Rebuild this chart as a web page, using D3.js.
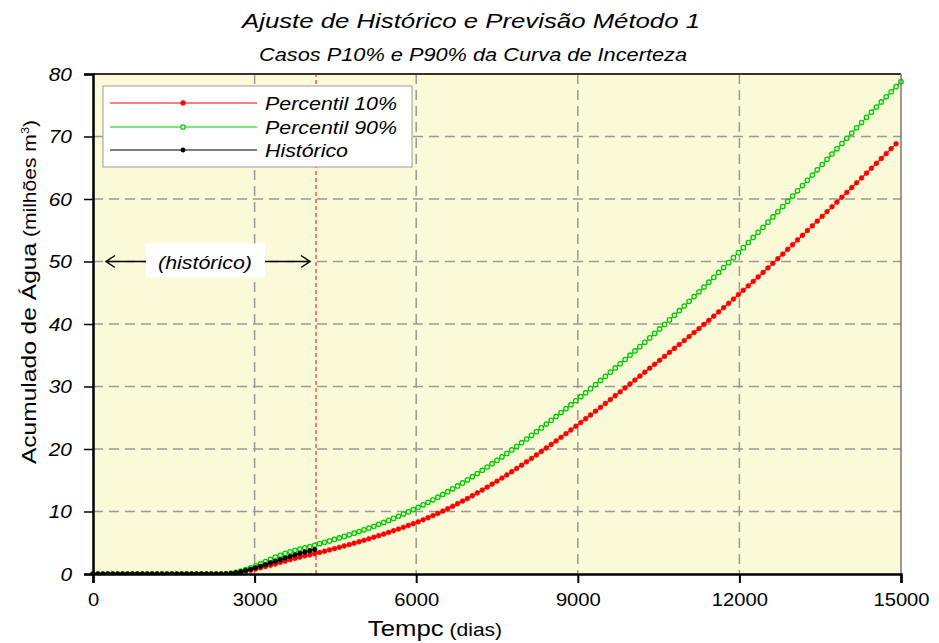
<!DOCTYPE html>
<html><head><meta charset="utf-8">
<script src="https://cdn.jsdelivr.net/npm/d3@7"></script>
<style>body{margin:0;background:#fff} svg{display:block} text{font-family:"Liberation Sans",Arial,Helvetica,sans-serif}</style>
</head><body><svg id="c" width="939" height="643"></svg>
<script>
// ---- data ----
const xTicks = [0, 3000, 6000, 9000, 12000, 15000];
const yTicks = [0, 10, 20, 30, 40, 50, 60, 70, 80];
const stepDays = 15000 / 164;      // quarterly samples
const histEnd = 4140;              // end of history (days)
const seriesNames = ["Percentil 10%", "Percentil 90%", "Histórico"];

const p10 = [
0,0,0,0,0,0,0,0,0,0, 0,0,0,0,0,0,0,0,0,0, 0,0,0,0,0,0,0,0,0.05,0.15,
0.3,0.5,0.6,0.8,1.0,1.2,1.4,1.6,1.85,2.05, 2.3,2.5,2.7,2.9,3.05,3.24,3.44,3.64,3.85,4.05,
4.27,4.48,4.70,4.93,5.16,5.39,5.63,5.88,6.13,6.38, 6.65,6.92,7.19,7.47,7.76,8.05,8.35,8.67,9.00,9.34,
9.69,10.06,10.44,10.83,11.24,11.65,12.08,12.52,12.97,13.43, 13.89,14.37,14.85,15.35,15.85,16.36,16.88,17.42,17.95,18.49,
19.04,19.60,20.16,20.72,21.29,21.87,22.45,23.04,23.64,24.23, 24.84,25.44,26.05,26.66,27.28,27.90,28.52,29.14,29.77,30.40,
31.03,31.66,32.29,32.93,33.55,34.19,34.82,35.45,36.08,36.71, 37.34,37.99,38.63,39.27,39.93,40.59,41.26,41.93,42.62,43.30,
43.99,44.69,45.39,46.10,46.81,47.52,48.24,48.97,49.70,50.44, 51.18,51.93,52.68,53.44,54.19,54.95,55.70,56.46,57.22,57.99,
58.75,59.51,60.28,61.05,61.82,62.59,63.37,64.14,64.92,65.70, 66.48,67.26,68.05,68.83
];
const p90 = [
0,0,0,0,0,0,0,0,0,0, 0,0,0,0,0,0,0,0,0,0, 0,0,0,0,0,0,0,0.02,0.1,0.25,
0.45,0.7,1.0,1.3,1.65,2.0,2.35,2.7,3.0,3.3, 3.55,3.8,4.0,4.2,4.4,4.6,4.86,5.08,5.30,5.53,
5.77,6.02,6.27,6.53,6.80,7.07,7.35,7.64,7.95,8.25, 8.58,8.90,9.24,9.59,9.94,10.31,10.68,11.07,11.47,11.87,
12.29,12.73,13.17,13.63,14.09,14.57,15.06,15.57,16.08,16.60, 17.12,17.65,18.19,18.74,19.30,19.86,20.43,21.01,21.60,22.18,
22.78,23.38,23.99,24.60,25.21,25.83,26.46,27.09,27.72,28.37, 29.01,29.66,30.31,30.97,31.63,32.30,32.97,33.64,34.32,35.01,
35.69,36.38,37.08,37.78,38.50,39.21,39.94,40.66,41.40,42.13, 42.88,43.63,44.39,45.15,45.91,46.69,47.46,48.25,49.03,49.82,
50.62,51.42,52.22,53.04,53.85,54.67,55.48,56.30,57.13,57.96, 58.79,59.63,60.47,61.31,62.15,62.99,63.84,64.67,65.52,66.36,
67.20,68.04,68.88,69.72,70.56,71.40,72.23,73.07,73.89,74.72, 75.53,76.35,77.16,77.98,78.78
];
const hist = [
0,0,0,0,0,0,0,0,0,0, 0,0,0,0,0,0,0,0,0,0, 0,0,0,0,0,0,0,0.02,0.08,0.2,
0.35,0.55,0.75,1.0,1.25,1.5,1.8,2.05,2.3,2.55, 2.8,3.05,3.3,3.5,3.7,3.9
];

// ---- layout ----
const m = {l: 93, r: 901, t: 74, b: 574};
const svg = d3.select("#c");
const x = d3.scaleLinear().domain([0, 15000]).range([m.l, m.r]);
const y = d3.scaleLinear().domain([0, 80]).range([m.b, m.t]);
const toPts = arr => arr.map((v, i) => [i * stepDays, v]);
const green = "#00cc00", red = "#ff0000", bg = "#fafad9";

// stretch a text horizontally (reference font is wider than Liberation Sans)
function stretch(sel, target) {
  sel.each(function() {
    const L = this.getComputedTextLength();
    const t = typeof target === "number" && target > 3 ? target : L * target;
    this.setAttribute("textLength", t);
    this.setAttribute("lengthAdjust", "spacingAndGlyphs");
  });
}

svg.append("rect").attr("x", m.l).attr("y", m.t).attr("width", m.r - m.l).attr("height", m.b - m.t).attr("fill", bg);

// grid
const grid = svg.append("g").attr("stroke", "#999").attr("stroke-width", 1.5).attr("stroke-dasharray", "10,6");
grid.selectAll(".gx").data(xTicks.filter(d => d > 0 && d < 15000)).join("line")
  .attr("x1", d => x(d)).attr("x2", d => x(d)).attr("y1", m.t).attr("y2", m.b);
grid.selectAll(".gy").data(yTicks.filter(d => d > 0 && d < 80)).join("line")
  .attr("y1", d => y(d)).attr("y2", d => y(d)).attr("x1", m.l).attr("x2", m.r);

// history end line
svg.append("line").attr("x1", x(histEnd)).attr("x2", x(histEnd)).attr("y1", m.b).attr("y2", m.t)
  .attr("stroke", red).attr("stroke-width", 1).attr("stroke-dasharray", "4,3");

svg.append("clipPath").attr("id", "clip").append("rect")
  .attr("x", m.l - 3).attr("y", m.t - 3).attr("width", m.r - m.l + 6).attr("height", m.b - m.t + 3);
const plot = svg.append("g").attr("clip-path", "url(#clip)");
const line = d3.line().x(d => x(d[0])).y(d => y(d[1]));

function drawSeries(arr, color, fill, r, sw) {
  const pts = toPts(arr);
  plot.append("path").datum(pts).attr("d", line).attr("fill", "none").attr("stroke", color).attr("stroke-width", 1.2);
  plot.append("g").selectAll("circle").data(pts).join("circle")
    .attr("cx", d => x(d[0])).attr("cy", d => y(d[1])).attr("r", r)
    .attr("fill", fill).attr("stroke", color).attr("stroke-width", sw);
}
drawSeries(p10, red, red, 2.4, 0.6);
drawSeries(p90, green, bg, 2.2, 1.3);
drawSeries(hist, "#000", "#000", 2.3, 0.6);

// frame
svg.append("line").attr("x1", m.l).attr("x2", m.r).attr("y1", m.t).attr("y2", m.t).attr("stroke", "#333").attr("stroke-width", 2);
svg.append("line").attr("x1", m.r).attr("x2", m.r).attr("y1", m.t).attr("y2", m.b).attr("stroke", "#777").attr("stroke-width", 1.5);

// axes
const xAxis = svg.append("g").attr("transform", `translate(0,${m.b})`)
  .call(d3.axisBottom(x).tickValues(xTicks).tickSize(9).tickFormat(d3.format("d")));
xAxis.select(".domain").attr("stroke", "#000").attr("stroke-width", 2.5);
xAxis.selectAll(".tick line").attr("stroke", "#000").attr("stroke-width", 2);
xAxis.selectAll(".tick text").attr("font-size", 18).attr("dy", "1.1em").attr("fill", "#000")
  .style("font-family", '"Liberation Sans",Arial,sans-serif');
stretch(xAxis.selectAll(".tick text"), 1.12);

const yAxis = svg.append("g").attr("transform", `translate(${m.l},0)`)
  .call(d3.axisLeft(y).tickValues(yTicks).tickSize(9).tickPadding(12));
yAxis.select(".domain").attr("stroke", "#000").attr("stroke-width", 2.5);
yAxis.selectAll(".tick line").attr("stroke", "#000").attr("stroke-width", 1.5);
yAxis.selectAll(".tick text").attr("font-size", 19).attr("font-style", "italic").attr("fill", "#000")
  .style("font-family", '"Liberation Sans",Arial,sans-serif');
stretch(yAxis.selectAll(".tick text"), 1.1);

// titles
stretch(svg.append("text").attr("x", 471).attr("y", 28).attr("text-anchor", "middle")
  .attr("font-size", 21).attr("font-style", "italic").text("Ajuste de Histórico e Previsão Método 1"), 458);
stretch(svg.append("text").attr("x", 473).attr("y", 61).attr("text-anchor", "middle")
  .attr("font-size", 18).attr("font-style", "italic").text("Casos P10% e P90% da Curva de Incerteza"), 428);

// axis titles (scaled horizontally along the text direction)
const xt = svg.append("text").attr("transform", "translate(435,636) scale(1.17,1)").attr("text-anchor", "middle");
xt.append("tspan").attr("font-size", 22).text("Tempc");
xt.append("tspan").attr("font-size", 18).attr("dx", 5).text("(dias)");
const yt = svg.append("text").attr("transform", "translate(36,292) rotate(-90) scale(1.17,1)").attr("text-anchor", "middle");
yt.append("tspan").attr("font-size", 21).text("Acumulado de Água");
yt.append("tspan").attr("font-size", 18).attr("dx", 5).text("(milhões m");
yt.append("tspan").attr("font-size", 11).attr("dy", -7).text("3");
yt.append("tspan").attr("font-size", 18).attr("dy", 7).text(")");

// annotation (histórico)
const ay = y(50);
const ann = svg.append("g").attr("stroke", "#000").attr("stroke-width", 1.5).attr("fill", "none");
ann.append("rect").attr("x", 146).attr("y", ay - 18).attr("width", 119).attr("height", 34).attr("fill", "#fff").attr("stroke", "none");
ann.append("path").attr("d", `M146,${ay} L106,${ay} M115,${ay - 6} L106,${ay} L115,${ay + 6}`);
ann.append("path").attr("d", `M265,${ay} L310,${ay} M301,${ay - 6} L310,${ay} L301,${ay + 6}`);
stretch(svg.append("text").attr("x", 205).attr("y", ay + 7).attr("text-anchor", "middle")
  .attr("font-size", 18.5).attr("font-style", "italic").text("(histórico)"), 94);

// legend
const lg = svg.append("g");
lg.append("rect").attr("x", 103).attr("y", 86).attr("width", 309).attr("height", 81)
  .attr("fill", "#fff").attr("stroke", "#999").attr("stroke-width", 1);
const legendItems = [
  {name: seriesNames[0], color: red, fill: red, sw: 0.6, w: 132, r: 2.4},
  {name: seriesNames[1], color: green, fill: "#fff", sw: 1.3, w: 132, r: 2.2},
  {name: seriesNames[2], color: "#000", fill: "#000", sw: 0.6, w: 83, r: 2.2}
];
const rowY = [103, 127, 150];
legendItems.forEach((it, i) => {
  const yy = rowY[i];
  lg.append("line").attr("x1", 110).attr("x2", 257).attr("y1", yy).attr("y2", yy).attr("stroke", it.color).attr("stroke-width", 1.2);
  lg.append("circle").attr("cx", 183).attr("cy", yy).attr("r", it.r).attr("fill", it.fill).attr("stroke", it.color).attr("stroke-width", it.sw);
  stretch(lg.append("text").attr("x", 265).attr("y", yy + 7).attr("font-size", 18.5).attr("font-style", "italic").text(it.name), it.w);
});
</script>
</body></html>
